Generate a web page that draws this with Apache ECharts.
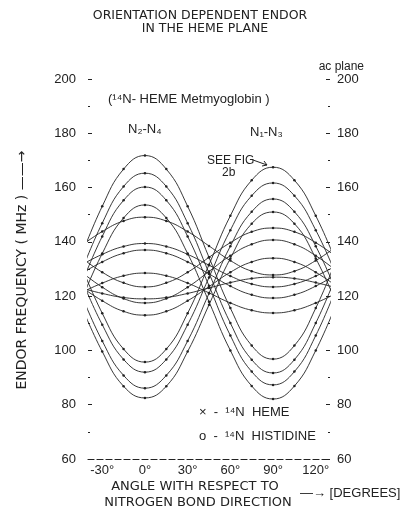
<!DOCTYPE html>
<html>
<head>
<meta charset="utf-8">
<script src="https://cdn.jsdelivr.net/npm/echarts@6/dist/echarts.min.js"></script>
<style>
  html, body { margin: 0; padding: 0; background: #fff; }
  #chart { width: 400px; height: 513px; }
</style>
</head>
<body>
<div id="chart"></div>
<script>
var angles = [-45, -30, -15, 0, 15, 30, 45, 60, 75, 90, 105, 120, 135];

// N2-N4 lines (maximum at 0 deg)
var n24a = [134.3, 153.1, 166.8, 171.8, 166.8, 153.1, 134.3, 115.6, 101.8, 96.8, 101.8, 115.6, 134.3];
var n24b = [128.5, 146.9, 160.4, 165.3, 160.4, 146.9, 128.5, 110.1, 96.6, 91.7, 96.6, 110.1, 128.5];
var n24c = [123.8, 142.0, 155.3, 160.2, 155.3, 142.0, 123.8, 105.5, 92.2, 87.3, 92.2, 105.5, 123.8];
var n24d = [117.9, 135.7, 148.8, 153.6, 148.8, 135.7, 117.9, 100.0, 86.9, 82.1, 86.9, 100.0, 117.9];
var n24e = [138.5, 143.8, 147.7, 149.1, 147.7, 143.8, 138.5, 133.1, 129.2, 127.8, 129.2, 133.1, 138.5];
var n24f = [131.4, 135.4, 138.3, 139.4, 138.3, 135.4, 131.4, 127.4, 124.5, 123.4, 124.5, 127.4, 131.4];
var n24g = [128.2, 132.6, 135.8, 137.0, 135.8, 132.6, 128.2, 123.7, 120.5, 119.3, 120.5, 123.7, 128.2];
var n24h = [121.2, 124.8, 127.5, 128.5, 127.5, 124.8, 121.2, 117.5, 114.8, 113.8, 114.8, 117.5, 121.2];

// N1-N3 lines (maximum at 90 deg)
var n13a = [131.6, 113.7, 100.5, 95.7, 100.5, 113.7, 131.6, 149.6, 162.7, 167.5, 162.7, 149.6, 131.6];
var n13b = [126.9, 109.5, 96.7, 92.0, 96.7, 109.5, 126.9, 144.3, 157.0, 161.7, 157.0, 144.3, 126.9];
var n13c = [121.0, 103.5, 90.8, 86.1, 90.8, 103.5, 121.0, 138.4, 151.1, 155.8, 151.1, 138.4, 121.0];
var n13d = [116.8, 99.6, 86.8, 82.5, 86.8, 99.6, 116.8, 133.9, 146.7, 151.0, 146.7, 133.9, 116.8];
var n13e = [134.3, 128.8, 124.9, 123.4, 124.9, 128.8, 134.3, 139.7, 143.7, 145.1, 143.7, 139.7, 134.3];
var n13f = [129.1, 123.3, 119.1, 117.5, 119.1, 123.3, 129.1, 134.9, 139.1, 140.7, 139.1, 134.9, 129.1];
var n13g = [123.5, 118.3, 114.4, 113.0, 114.4, 118.3, 123.5, 128.8, 132.6, 134.0, 132.6, 128.8, 123.5];
var n13h = [123.0, 121.0, 119.5, 119.0, 119.5, 121.0, 123.0, 125.0, 126.5, 127.0, 126.5, 125.0, 123.0];

var xTicks = [-30, 0, 30, 60, 90, 120];
var xTickLabels = ['-30°', '0°', '30°', '60°', '90°', '120°'];

var allLines = [n24a, n24b, n24c, n24d, n24e, n24f, n24g, n24h,
                n13a, n13b, n13c, n13d, n13e, n13f, n13g, n13h];

var chart = echarts.init(document.getElementById('chart'));
var ink = '#222';
var font = '"Liberation Sans"';
var wide = '"DejaVu Sans"';
var narrow = '"Liberation Sans Narrow", "Liberation Sans"';

var series = allLines.map(function (vals) {
  return {
    type: 'line',
    smooth: 0.45,
    data: angles.map(function (a, i) { return [a, vals[i]]; }),
    symbol: 'circle',
    symbolSize: 2.5,
    showSymbol: true,
    itemStyle: { color: ink },
    lineStyle: { color: ink, width: 0.9 },
    silent: true
  };
});

function yLabel(v) { return String(v); }

function yAxisOf(pos, margin) {
  return {
    type: 'value', min: 60, max: 200, interval: 20, position: pos,
    axisLine: { show: false, onZero: false },
    axisTick: { show: true, inside: true, length: 4, lineStyle: { color: ink } },
    minorTick: { show: true, splitNumber: 2, length: 2, lineStyle: { color: ink } },
    splitLine: { show: false },
    axisLabel: { formatter: yLabel, color: ink, fontFamily: 'Liberation Sans', fontSize: 13, margin: margin }
  };
}

chart.setOption({
  animation: false,
  backgroundColor: '#fff',
  grid: { left: 88, right: 70, top: 79, bottom: 54, containLabel: false },
  xAxis: {
    type: 'value', min: -40, max: 130,
    axisLine: { show: true, onZero: false, lineStyle: { color: ink, width: 1.2, type: [6, 3] } },
    axisTick: { show: false },
    splitLine: { show: false },
    axisLabel: {
      customValues: xTicks,
      formatter: function (v) { return xTickLabels[xTicks.indexOf(v)]; },
      color: ink, fontFamily: 'Liberation Sans', fontSize: 13, margin: 5
    }
  },
  yAxis: [yAxisOf('left', 12), yAxisOf('right', 7)],
  series: series,
  graphic: [
    { type: 'text', x: 200, y: 9, style: { text: 'ORIENTATION DEPENDENT ENDOR', font: '12.5px ' + wide, fill: ink, align: 'center' } },
    { type: 'text', x: 205, y: 22, style: { text: 'IN THE HEME PLANE', font: '12.5px ' + wide, fill: ink, align: 'center' } },
    { type: 'text', x: 364, y: 61, style: { text: 'ac plane', font: '12px ' + font, fill: ink, align: 'right' } },
    { type: 'text', x: 108, y: 93, style: { text: '(¹⁴N- HEME Metmyoglobin )', font: '13px ' + narrow, fill: ink } },
    { type: 'text', x: 128, y: 123, style: { text: 'N₂-N₄', font: '13px ' + font, fill: ink } },
    { type: 'text', x: 250, y: 126, style: { text: 'N₁-N₃', font: '13px ' + font, fill: ink } },
    { type: 'text', x: 207, y: 155, style: { text: 'SEE FIG', font: '12px ' + font, fill: ink } },
    { type: 'text', x: 222, y: 167, style: { text: '2b', font: '12px ' + font, fill: ink } },
    { type: 'polyline', shape: { points: [[253, 160], [267, 165]] }, style: { stroke: ink, lineWidth: 1 } },
    { type: 'polyline', shape: { points: [[262, 166], [267, 165], [264, 161]] }, style: { stroke: ink, lineWidth: 1, fill: null } },
    { type: 'text', x: 199, y: 406, style: { text: '×  -  ¹⁴N  HEME', font: '13px ' + font, fill: ink } },
    { type: 'text', x: 199, y: 430, style: { text: 'o  -  ¹⁴N  HISTIDINE', font: '13px ' + font, fill: ink } },
    { type: 'text', x: 195, y: 480, style: { text: 'ANGLE WITH RESPECT TO', font: '13px ' + wide, fill: ink, align: 'center' } },
    { type: 'text', x: 198, y: 496, style: { text: 'NITROGEN BOND DIRECTION', font: '13px ' + wide, fill: ink, align: 'center' } },
    { type: 'text', x: 300, y: 487, style: { text: '—→ [DEGREES]', font: '13px ' + font, fill: ink } },
    { type: 'text', x: 22, y: 270, rotation: Math.PI / 2,
      style: { text: 'ENDOR FREQUENCY ( MHz ) ——→', font: '14px ' + wide, fill: ink, align: 'center', verticalAlign: 'middle' } }
  ]
});
</script>
</body>
</html>
